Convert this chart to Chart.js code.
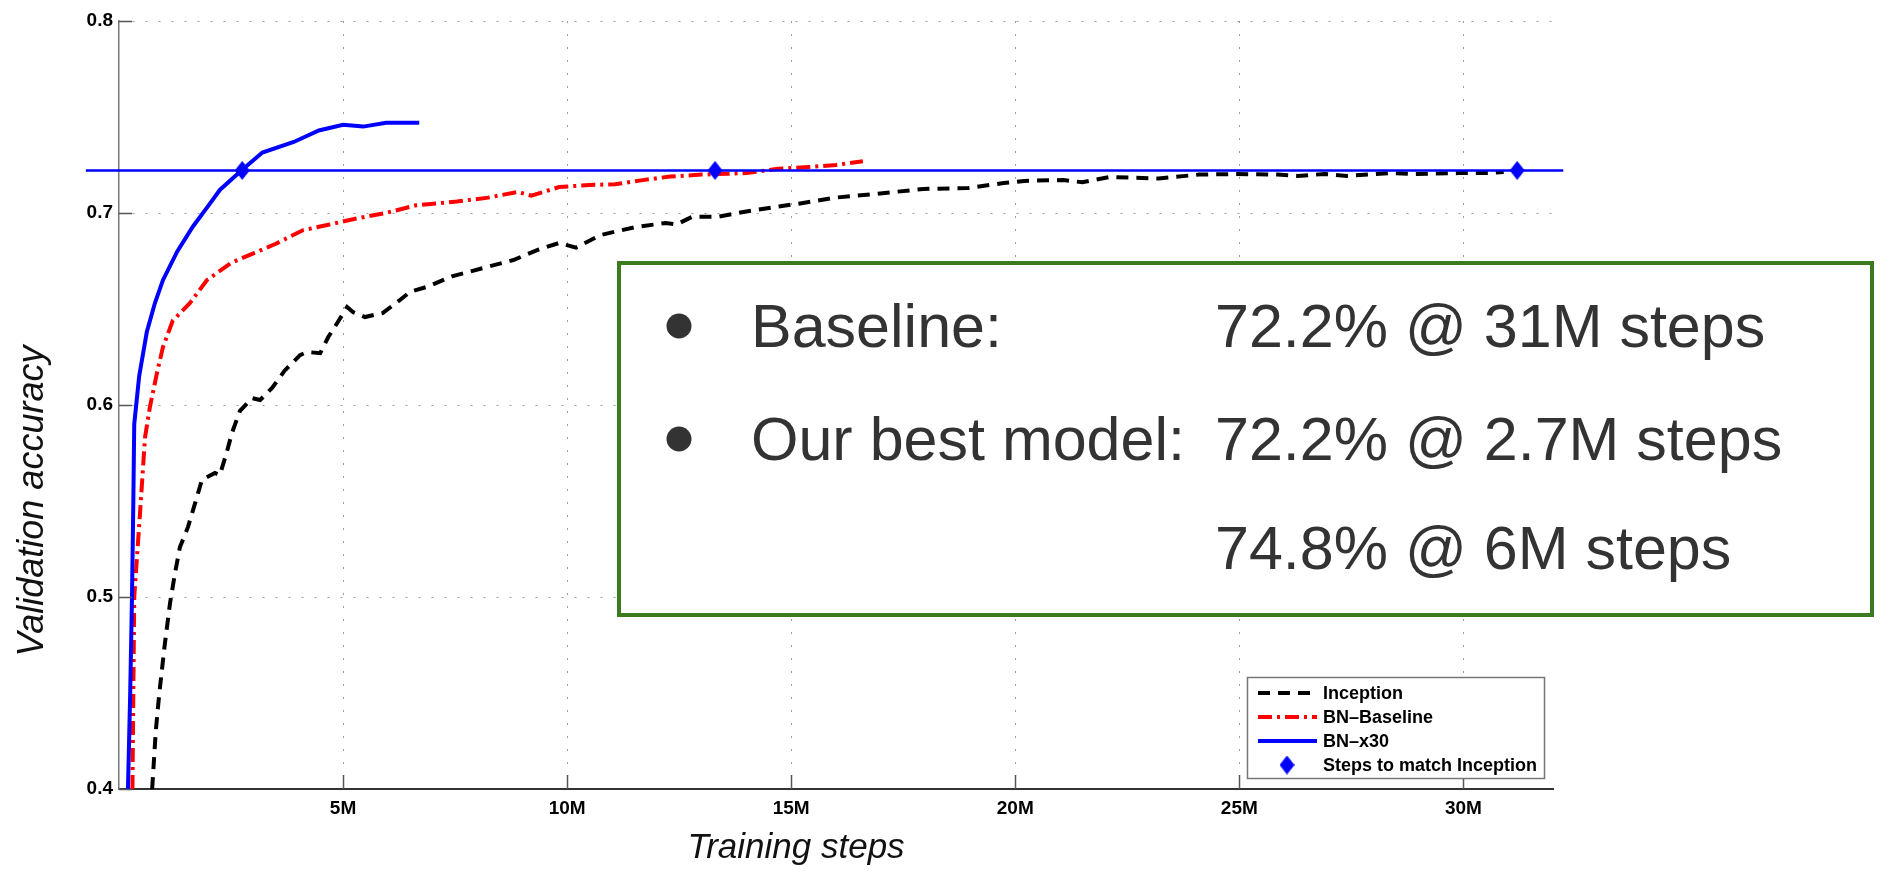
<!DOCTYPE html>
<html>
<head>
<meta charset="utf-8">
<script src="https://cdn.jsdelivr.net/npm/chart.js@4.4.1/dist/chart.umd.min.js"></script>
<style>
  html, body { margin: 0; padding: 0; background: #fff; }
</style>
</head>
<body>
<canvas id="canvas" width="1888" height="871"></canvas>
<script>
// steps in millions, accuracy as fraction
const inceptionSteps = [0.74, 0.82, 0.9, 1.02, 1.14, 1.25, 1.36, 1.54, 1.7, 1.85, 2.14, 2.25, 2.4, 2.52, 2.7, 2.97, 3.15, 3.42, 3.7, 4.04, 4.2, 4.49, 4.67, 4.87, 5.09, 5.22, 5.49, 5.89, 6.27, 6.5, 6.87, 7.43, 8.23, 8.8, 9.37, 9.82, 10.2, 10.74, 11.53, 12.2, 12.44, 12.79, 13.35, 13.93, 14.6, 15.2, 15.98, 16.9, 17.95, 18.95, 19.74, 20.2, 21.07, 21.5, 22.1, 23.2, 24.1, 24.9, 25.85, 26.3, 26.9, 27.4, 28.36, 28.9, 29.9, 30.56, 30.9];
const inceptionAcc = [0.400, 0.430, 0.450, 0.475, 0.497, 0.5125, 0.526, 0.5365, 0.549, 0.561, 0.5646, 0.5635, 0.575, 0.5854, 0.597, 0.6036, 0.6026, 0.609, 0.618, 0.626, 0.6276, 0.627, 0.6354, 0.6427, 0.651, 0.6484, 0.6458, 0.648, 0.6547, 0.659, 0.6615, 0.667, 0.672, 0.6755, 0.681, 0.6844, 0.682, 0.6885, 0.6927, 0.6948, 0.694, 0.698, 0.698, 0.7005, 0.703, 0.705, 0.708, 0.710, 0.7125, 0.713, 0.7156, 0.7167, 0.7172, 0.716, 0.7187, 0.718, 0.720, 0.7203, 0.720, 0.7193, 0.7203, 0.7193, 0.7208, 0.7203, 0.7208, 0.7208, 0.7214];

const baselineSteps = [0.3, 0.32, 0.34, 0.47, 0.58, 0.69, 0.85, 0.98, 1.2, 1.58, 1.96, 2.5, 3.0, 3.5, 4.1, 4.7, 5.27, 5.95, 6.63, 7.54, 8.24, 8.9, 9.2, 9.82, 10.5, 11.07, 11.65, 12.3, 13.0, 14.0, 14.7, 15.4, 16.0, 16.6];
const baselineAcc = [0.400, 0.450, 0.500, 0.544, 0.583, 0.599, 0.617, 0.630, 0.644, 0.653, 0.665, 0.674, 0.679, 0.684, 0.691, 0.694, 0.697, 0.700, 0.704, 0.706, 0.708, 0.711, 0.709, 0.7135, 0.7146, 0.715, 0.717, 0.719, 0.720, 0.7208, 0.723, 0.724, 0.725, 0.727];

const bnx30Steps = [0.2, 0.25, 0.29, 0.32, 0.34, 0.45, 0.62, 0.8, 0.98, 1.3, 1.65, 2.0, 2.25, 2.75, 3.2, 3.9, 4.46, 5.0, 5.45, 5.96, 6.7];
const bnx30Acc = [0.400, 0.450, 0.500, 0.550, 0.590, 0.615, 0.638, 0.653, 0.665, 0.680, 0.693, 0.704, 0.712, 0.7225, 0.7315, 0.737, 0.743, 0.746, 0.745, 0.747, 0.747];

const matchSteps = [2.75, 13.3, 31.2];
const matchAcc = [0.7222, 0.7222, 0.7222];
const targetSteps = [-0.74, 32.23];
const targetAcc = [0.7222, 0.7222];

const xTicks = [5, 10, 15, 20, 25, 30];
const yTicks = [0.4, 0.5, 0.6, 0.7, 0.8];

const summaryLabels = ["Baseline:", "Our best model:", ""];
const summaryValues = ["72.2% @ 31M steps", "72.2% @ 2.7M steps", "74.8% @ 6M steps"];

const FONT = "'Liberation Sans', Arial, Helvetica, sans-serif";

function pts(xs, ys) {
  return xs.map((x, i) => ({ x: x, y: ys[i] }));
}

// tall blue diamond used as marker (matlab style)
const diamond = document.createElement("canvas");
diamond.width = 15;
diamond.height = 19;
(function () {
  const c = diamond.getContext("2d");
  c.fillStyle = "#0000ff";
  c.beginPath();
  c.moveTo(7.5, 0);
  c.lineTo(15, 9.5);
  c.lineTo(7.5, 19);
  c.lineTo(0, 9.5);
  c.closePath();
  c.fill();
})();

// tick marks pointing into the plot
const innerTicks = {
  id: "innerTicks",
  afterDraw(chart) {
    const ctx = chart.ctx;
    const xs = chart.scales.x, ys = chart.scales.y;
    const a = chart.chartArea;
    ctx.save();
    ctx.strokeStyle = "#555";
    ctx.lineWidth = 1.5;
    ctx.beginPath();
    xTicks.forEach((v) => {
      const px = Math.round(xs.getPixelForValue(v)) + 0.5;
      ctx.moveTo(px, a.bottom);
      ctx.lineTo(px, a.bottom - 14);
    });
    yTicks.forEach((v) => {
      const py = Math.round(ys.getPixelForValue(v)) + 0.5;
      ctx.moveTo(a.left, py);
      ctx.lineTo(a.left + 13, py);
    });
    ctx.stroke();
    ctx.restore();
  },
};

// axis titles, placed like the original (not centred on the axes)
const axisTitles = {
  id: "axisTitles",
  afterDraw(chart) {
    const ctx = chart.ctx;
    ctx.save();
    ctx.fillStyle = "#111";
    ctx.font = "italic 35px " + FONT;
    ctx.textAlign = "center";
    ctx.textBaseline = "alphabetic";
    ctx.fillText("Training steps", 796, 858);
    ctx.translate(43, 501);
    ctx.rotate(-Math.PI / 2);
    ctx.font = "italic 36px " + FONT;
    ctx.fillText("Validation accuracy", 0, 0);
    ctx.restore();
  },
};

// legend box in the lower right of the plot
const boxLegend = {
  id: "boxLegend",
  afterDraw(chart) {
    const ctx = chart.ctx;
    const items = chart.data.datasets
      .filter((d) => d.label)
      .sort((a, b) => b.order - a.order);
    const x0 = 1247, y0 = 677, w = 297, h = 101;
    ctx.save();
    ctx.fillStyle = "#fff";
    ctx.fillRect(x0, y0, w, h);
    ctx.strokeStyle = "#777";
    ctx.lineWidth = 1.5;
    ctx.strokeRect(x0 + 0.5, y0 + 0.5, w, h);
    const rows = [693, 717, 741, 765];
    ctx.font = "bold 18px " + FONT;
    ctx.textBaseline = "middle";
    ctx.textAlign = "left";
    items.forEach((d, i) => {
      const y = rows[i];
      if (d.showLine === false) {
        ctx.drawImage(d.pointStyle, 1287 - 7.5, y - 9.5);
      } else {
        ctx.strokeStyle = d.borderColor;
        ctx.lineWidth = d.borderWidth;
        ctx.setLineDash(d.borderDash || []);
        ctx.beginPath();
        ctx.moveTo(1258, y);
        ctx.lineTo(1317, y);
        ctx.stroke();
        ctx.setLineDash([]);
      }
      ctx.fillStyle = "#000";
      ctx.fillText(d.label, 1323, y + 1);
    });
    ctx.restore();
  },
};

// green summary box
const summaryBox = {
  id: "summaryBox",
  afterDraw(chart) {
    const ctx = chart.ctx;
    const x0 = 619, y0 = 263, w = 1253, h = 352;
    ctx.save();
    ctx.fillStyle = "#fff";
    ctx.fillRect(x0, y0, w, h);
    ctx.strokeStyle = "#3b7a1e";
    ctx.lineWidth = 4;
    ctx.strokeRect(x0, y0, w, h);
    const baselines = [347, 460, 569];
    ctx.fillStyle = "#333";
    ctx.font = "61px " + FONT;
    ctx.textBaseline = "alphabetic";
    ctx.textAlign = "left";
    summaryValues.forEach((v, i) => {
      const b = baselines[i];
      if (summaryLabels[i]) {
        ctx.beginPath();
        ctx.arc(679, b - 21, 12.5, 0, Math.PI * 2);
        ctx.fill();
        ctx.fillText(summaryLabels[i], 751, b);
      }
      ctx.fillText(v, 1215, b);
    });
    ctx.restore();
  },
};

const config = {
  type: "scatter",
  data: {
    datasets: [
      {
        label: "Steps to match Inception",
        data: pts(matchSteps, matchAcc),
        showLine: false,
        pointStyle: diamond,
        pointRadius: 9,
        order: 0,
      },
      {
        label: "BN\u2013x30",
        data: pts(bnx30Steps, bnx30Acc),
        showLine: true,
        borderColor: "#0000ff",
        borderWidth: 4,
        pointRadius: 0,
        order: 1,
      },
      {
        label: "",
        data: pts(targetSteps, targetAcc),
        showLine: true,
        borderColor: "#0000ff",
        borderWidth: 2.5,
        pointRadius: 0,
        clip: false,
        order: 2,
      },
      {
        label: "BN\u2013Baseline",
        data: pts(baselineSteps, baselineAcc),
        showLine: true,
        borderColor: "#ff0000",
        borderWidth: 4,
        borderDash: [14, 5, 3, 5],
        pointRadius: 0,
        order: 3,
      },
      {
        label: "Inception",
        data: pts(inceptionSteps, inceptionAcc),
        showLine: true,
        borderColor: "#000000",
        borderWidth: 4,
        borderDash: [12, 8],
        pointRadius: 0,
        order: 4,
      },
    ],
  },
  options: {
    responsive: false,
    animation: false,
    events: [],
    layout: { padding: { top: 21, right: 335, left: 0, bottom: 0 } },
    plugins: {
      legend: { display: false },
      title: { display: false },
      tooltip: { enabled: false },
    },
    scales: {
      x: {
        type: "linear",
        min: 0,
        max: 32,
        afterBuildTicks: (s) => { s.ticks = xTicks.map((v) => ({ value: v })); },
        afterFit: (s) => { s.height = 82; },
        ticks: {
          callback: (v) => v + "M",
          color: "#000",
          font: { family: FONT, size: 19, weight: "bold" },
          padding: 8,
          maxRotation: 0,
        },
        grid: { color: "#9a9a9a", lineWidth: 1, drawTicks: false },
        border: { color: "#333", width: 2, dash: [2, 11] },
      },
      y: {
        type: "linear",
        min: 0.4,
        max: 0.8,
        afterBuildTicks: (s) => { s.ticks = yTicks.map((v) => ({ value: v })); },
        afterFit: (s) => { s.width = 119; },
        ticks: {
          callback: (v) => v.toFixed(1),
          color: "#000",
          font: { family: FONT, size: 19, weight: "bold" },
          padding: 6,
        },
        grid: { color: "#9a9a9a", lineWidth: 1, drawTicks: false },
        border: { color: "#777", width: 1.5, dash: [2, 11] },
      },
    },
  },
  plugins: [innerTicks, summaryBox, boxLegend, axisTitles],
};

window.onload = function () {
  const ctx = document.getElementById("canvas").getContext("2d");
  new Chart(ctx, config);
};
</script>
</body>
</html>
